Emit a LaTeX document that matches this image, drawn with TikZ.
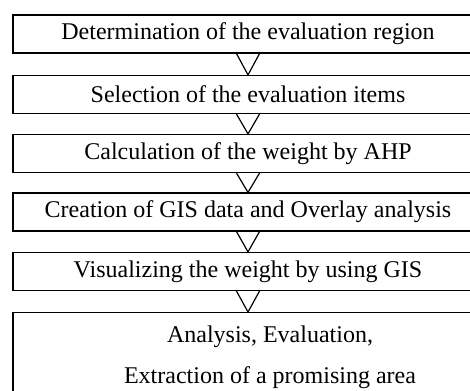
\documentclass[tikz,border=0pt]{standalone}
\usepackage{fontspec}
\setmainfont{Liberation Serif}

\begin{document}
\begin{tikzpicture}
  [x=1pt,y=-1pt,font=\fontsize{24}{28}\selectfont,
   stage/.style={draw,line width=1.2pt,minimum width=470pt,minimum height=38pt,inner sep=0pt}]

  \clip (0,0) rectangle (470,390);

  \node[stage] (s1) at (248,34) {Determination of the evaluation region};
  \node[stage] (s2) at (248,94.5) {Selection of the evaluation items};
  \node[stage] (s3) at (248,153.5) {Calculation of the weight by AHP};
  \node[stage] (s4) at (248,212) {Creation of GIS data and Overlay analysis};
  \node[stage] (s5) at (248,271.5) {Visualizing the weight by using GIS};
  \node[stage,minimum width=514pt,minimum height=89pt,align=center,anchor=north] (s6) at (270,312)
    {Analysis, Evaluation,\\[13pt] Extraction of a promising area};

  \foreach \from/\to in {s1/s2,s2/s3,s3/s4,s4/s5,s5/s6}
    \draw[line width=1.2pt] ([xshift=-11.5pt]\from.south) -- (\from.south |- \to.north) -- ([xshift=11.5pt]\from.south);
\end{tikzpicture}
\end{document}
